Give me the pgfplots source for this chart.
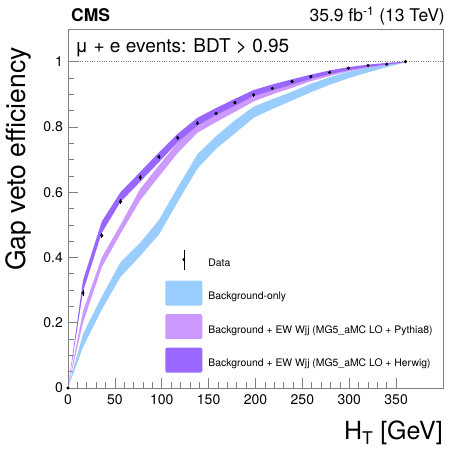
\documentclass[border=0pt]{standalone}
\usepackage{pgfplots}
\pgfplotsset{compat=1.18}
\usepackage{pgfplotstable}
\usepgfplotslibrary{fillbetween}
\usepackage{fontspec}
\setmainfont{TeX Gyre Heros}
\definecolor{bkg}{RGB}{153,204,255}
\definecolor{pyt}{RGB}{204,153,255}
\definecolor{her}{RGB}{153,102,255}

\pgfplotstableread{
x lo hi
0 0 0
16 0.125 0.165
36 0.24 0.28
56 0.34 0.385
77 0.405 0.445
97 0.47 0.515
117 0.57 0.615
138 0.672 0.716
158 0.733 0.772
178 0.78 0.82
198 0.828 0.862
218 0.855 0.885
239 0.881 0.908
259 0.906 0.932
279 0.929 0.952
299 0.949 0.969
320 0.967 0.982
340 0.983 0.993
360 0.998 1.0
}\bkgtab

\pgfplotstableread{
x lo hi
0 0 0
16 0.20 0.235
36 0.37 0.40
56 0.473 0.50
77 0.575 0.61
97 0.648 0.682
117 0.72 0.752
138 0.782 0.808
158 0.815 0.84
178 0.846 0.87
198 0.878 0.898
218 0.90 0.918
239 0.92 0.937
259 0.94 0.954
279 0.956 0.968
299 0.97 0.98
320 0.981 0.988
340 0.99 0.995
360 0.998 1.0
}\pyttab

\pgfplotstableread{
x lo hi
0 0 0
16 0.295 0.33
36 0.475 0.51
56 0.57 0.60
77 0.632 0.662
97 0.692 0.722
117 0.753 0.779
138 0.804 0.828
158 0.837 0.858
178 0.865 0.886
198 0.895 0.913
218 0.912 0.93
239 0.93 0.946
259 0.947 0.96
279 0.962 0.973
299 0.974 0.983
320 0.984 0.991
340 0.991 0.996
360 0.998 1.0
}\hertab

\pgfplotstableread{
x y e
0 0 0
16 0.291 0.010
36 0.467 0.008
56 0.571 0.008
77 0.645 0.007
97 0.708 0.007
117 0.767 0.006
138 0.811 0.006
158 0.841 0.005
178 0.874 0.005
198 0.898 0.005
218 0.918 0.004
239 0.939 0.004
259 0.954 0.004
279 0.967 0.003
299 0.980 0.003
320 0.988 0.003
340 0.992 0.002
360 1.000 0.001
}\datatab

\begin{document}
\begin{tikzpicture}
\begin{axis}[
  name=ax, at={(0,0)}, anchor=south west,
  scale only axis, width=375pt, height=359pt,
  xmin=0, xmax=400, ymin=0, ymax=1.1,
  xtick={0,50,100,150,200,250,300,350},
  ytick={0,0.2,0.4,0.6,0.8,1},
  minor x tick num=4, minor y tick num=3,
  tick align=inside, xtick pos=bottom, ytick pos=left,
  major tick length=10pt, minor tick length=5.5pt,
  axis line style={gray, line width=0.8pt},
  every tick/.style={gray, line width=0.6pt},
  /pgf/number format/assume math mode=true,
  ticklabel style={font=\fontsize{14}{14}\selectfont},
  yticklabel style={inner sep=0pt, xshift=-5pt},
  xticklabel style={inner sep=0pt, yshift=-6pt},
  legend style={at={(0.259,0.393)}, anchor=north west, draw=none, fill=none,
    font=\fontsize{10.4}{12}\selectfont, row sep=8.5pt, inner sep=0pt,
    nodes={inner sep=0pt}},
  legend cell align=left,
]
\addplot[gray, dotted, forget plot] coordinates {(0,1) (400,1)};

\addplot[name path=bl, draw=none, forget plot] table[x=x,y=lo] {\bkgtab};
\addplot[name path=bh, draw=none, forget plot] table[x=x,y=hi] {\bkgtab};
\addplot[bkg, draw=none, forget plot] fill between[of=bl and bh];

\addplot[name path=pl, draw=none, forget plot] table[x=x,y=lo] {\pyttab};
\addplot[name path=ph, draw=none, forget plot] table[x=x,y=hi] {\pyttab};
\addplot[pyt, draw=none, forget plot] fill between[of=pl and ph];

\addplot[name path=hl, draw=none, forget plot] table[x=x,y=lo] {\hertab};
\addplot[name path=hh, draw=none, forget plot] table[x=x,y=hi] {\hertab};
\addplot[her, draw=none, forget plot] fill between[of=hl and hh];

\addplot[only marks, mark=*, mark size=1.4pt, black, forget plot,
  error bars/.cd, y dir=both, y explicit, error mark=none,
  error bar style={black, line width=0.6pt}]
  table[x=x, y=y, y error=e] {\datatab};

\addlegendimage{legend image code/.code={
  \path[draw=none, fill=none] (0pt,-9pt) rectangle (43pt,16pt);
  \draw[black, line width=0.6pt] (18.5pt,-6.5pt) -- (18.5pt,13.5pt);
  \fill[black] (18.5pt,3.5pt) circle (1.2pt);}}
\addlegendentry{Data}
\addlegendimage{legend image code/.code={
  \path[draw=none, fill=none] (0pt,-9pt) rectangle (43pt,16pt);
  \fill[bkg, draw=none, rounded corners=1.5pt] (0pt,-9pt) rectangle (37pt,16pt);}}
\addlegendentry{Background-only}
\addlegendimage{legend image code/.code={
  \path[draw=none, fill=none] (0pt,-9pt) rectangle (43pt,16pt);
  \fill[pyt, draw=none, rounded corners=1.5pt] (0pt,-9pt) rectangle (37pt,16pt);}}
\addlegendentry{Background + EW Wjj (MG5\_aMC LO + Pythia8)}
\addlegendimage{legend image code/.code={
  \path[draw=none, fill=none] (0pt,-9pt) rectangle (43pt,16pt);
  \fill[her, draw=none, rounded corners=1.5pt] (0pt,-9pt) rectangle (37pt,16pt);}}
\addlegendentry{Background + EW Wjj (MG5\_aMC LO + Herwig)}
\end{axis}
\node[anchor=base west, inner sep=0pt, font=\fontsize{17.5}{18}\selectfont\bfseries]
  at ([xshift=3pt,yshift=7.5pt]ax.north west) {CMS};
\node[anchor=base east, inner sep=0pt, font=\fontsize{17.5}{18}\selectfont]
  at ([xshift=2pt,yshift=7.5pt]ax.north east) {35.9 fb\textsuperscript{-1} (13 TeV)};
\node[anchor=base west, inner sep=0pt, font=\fontsize{19}{20}\selectfont]
  at ([xshift=7pt,yshift=-24pt]ax.north west) {μ + e events: BDT > 0.95};
\node[anchor=base east, inner sep=0pt, rotate=90, font=\fontsize{26.5}{28}\selectfont]
  at ([xshift=-42pt,yshift=-18pt]ax.north west) {Gap veto efficiency};
\node[anchor=base east, inner sep=0pt, font=\fontsize{25}{26}\selectfont]
  at ([yshift=-52pt]ax.south east) {H\textsubscript{T} [GeV]};
\pgfresetboundingbox
\path ([xshift=-68pt,yshift=-66pt]ax.south west) rectangle ++(453pt,454pt);
\end{tikzpicture}
\end{document}
